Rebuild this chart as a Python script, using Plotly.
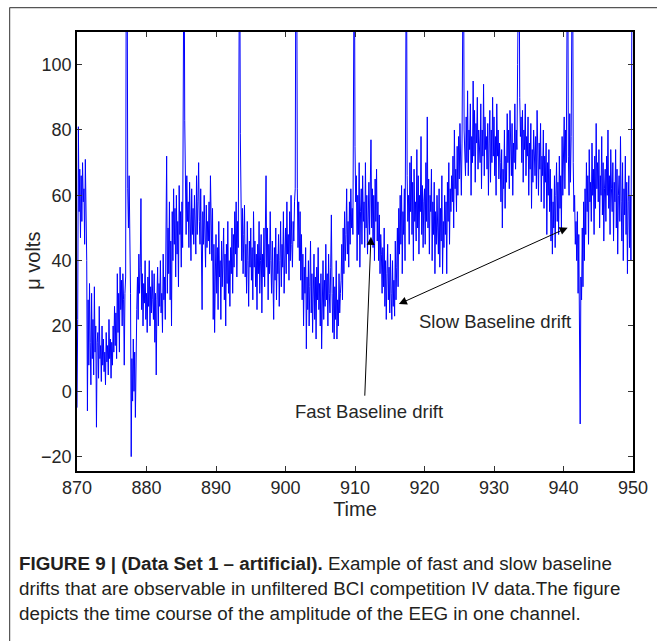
import numpy as np
import plotly.graph_objects as go

t_start = 870.0
t_step = 0.1

seg_870 = [
    -5, 22, 81, 55, 68, 47, 66, 52, 70, 58,
    62, 45, 71, 50, 40, -6, 28, 8, 33, 15,
    2, 30, 10, 22, 5, 32, 12, 20, -11, 15,
    18, 4, 26, 10, 14, 3, 20, 8, 16, 6,
    12, 2, 18, 9, 14, 5, 22, 10, 16, 4,
    15, 8, 20, 12, 26, 14, 24, 10, 36, 18,
    30, 12, 38, 25, 34, 20, 36, 28, 8, 30,
    35, 150, 150, 62, 50, 66, 45, 30, -20, 10,
    -3, 16, 0, 12, -8, 18, 25, 35, 22, 42,
    30, 38, 59, 25, 36, 20, 33, 27, 40, 22,
]
seg_880 = [
    30, 18, 35, 26, 40, 20, 32, 24, 37, 28,
    22, 36, 15, 30, 5, 28, 38, 20, 33, 26,
    40, 24, 30, 18, 42, 28, 35, 22, 45, 72,
    30, 50, 36, 58, 28, 46, 20, 55, 40, 62,
    45, 56, 35, 60, 42, 52, 32, 63, 48, 55,
    38, 58, 44, 150, 150, 83, 60, 48, 66, 52,
    58, 44, 64, 50, 40, 62, 48, 56, 45, 60,
    50, 42, 66, 48, 58, 70, 52, 45, 62, 40,
    25, 55, 45, 60, 48, 38, 57, 44, 52, 46,
    58, 42, 66, 50, 40, 56, 22, 45, 18, 35,
]
seg_890 = [
    48, 30, 44, 25, 52, 35, 40, 22, 46, 32,
    38, 50, 28, 42, 20, 45, 33, 52, 30, 40,
    26, 44, 36, 50, 30, 48, 38, 55, 42, 58,
    35, 52, 44, 150, 150, 79, 50, 40, 56, 36,
    48, 57, 35, 45, 30, 52, 40, 26, 46, 38,
    50, 34, 44, 28, 55, 38, 46, 32, 42, 25,
    45, 36, 52, 30, 40, 48, 24, 42, 35, 50,
    32, 44, 66, 38, 50, 28, 45, 36, 55, 40,
    30, 46, 38, 22, 44, 34, 50, 28, 42, 36,
    48, 26, 40, 52, 32, 45, 38, 55, 30, 44,
]
seg_900 = [
    50, 36, 58, 42, 48, 34, 55, 40, 60, 45,
    38, 52, 46, 58, 62, 150, 150, 62, 44, 58,
    40, 55, 34, 48, 28, 42, 20, 38, 30, 44,
    13, 35, 25, 40, 20, 32, 46, 24, 36, 18,
    30, 42, 22, 35, 16, 38, 28, 44, 25, 33,
    20, 36, 13, 30, 40, 22, 34, 26, 45, 28,
    36, 20, 42, 30, 24, 38, 54, 30, 18, 35,
    16, 32, 22, 40, 16, 28, 20, 36, 24, 30,
    34, 45, 28, 50, 36, 55, 40, 48, 62, 42,
    52, 38, 58, 45, 62, 50, 56, 48, 150, 150,
]
seg_910 = [
    75, 58, 66, 40, 60, 48, 70, 38, 55, 62,
    45, 66, 52, 58, 44, 70, 50, 60, 42, 56,
    64, 48, 58, 77, 50, 62, 44, 60, 40, 65,
    52, 68, 46, 58, 40, 54, 36, 48, 42, 30,
    44, 32, 50, 26, 40, 22, 36, 45, 28, 38,
    24, 42, 30, 22, 40, 26, 34, 23, 46, 28,
    38, 50, 32, 56, 42, 60, 45, 63, 36, 55,
    48, 62, 40, 150, 150, 66, 52, 60, 45, 70,
    55, 72, 48, 64, 40, 68, 52, 58, 46, 74,
    50, 66, 42, 60, 55, 78, 48, 63, 44, 58,
]
seg_920 = [
    62, 45, 70, 52, 84, 50, 65, 42, 60, 55,
    68, 40, 58, 48, 64, 36, 55, 45, 60, 50,
    42, 62, 38, 56, 46, 66, 36, 52, 44, 60,
    48, 58, 36, 64, 52, 70, 45, 62, 55, 66,
    58, 72, 50, 80, 62, 68, 55, 75, 60, 78,
    65, 82, 70, 60, 76, 150, 150, 80, 72, 66,
    84, 70, 92, 66, 80, 74, 88, 60, 78, 70,
    95, 72, 86, 64, 82, 76, 90, 68, 80, 74,
    70, 88, 62, 80, 72, 94, 66, 84, 74, 78,
    68, 82, 60, 76, 86, 64, 80, 70, 90, 72,
]
seg_930 = [
    84, 66, 78, 60, 88, 72, 80, 65, 76, 70,
    58, 74, 50, 68, 62, 80, 56, 72, 64, 85,
    70, 80, 62, 86, 72, 66, 82, 60, 76, 70,
    88, 68, 80, 74, 100, 150, 150, 90, 78, 84,
    70, 86, 64, 80, 74, 88, 66, 78, 72, 84,
    60, 76, 68, 82, 56, 74, 64, 80, 70, 66,
    78, 62, 86, 70, 60, 76, 68, 82, 58, 72,
    66, 80, 56, 72, 64, 76, 48, 70, 60, 74,
    55, 68, 46, 62, 42, 58, 50, 66, 44, 60,
    70, 52, 64, 48, 72, 56, 66, 50, 78, 60,
]
seg_940 = [
    68, 84, 62, 80, 70, 150, 150, 72, 60, 85,
    64, 78, 150, 150, 70, 55, 60, 45, 52, 40,
    55, 30, 48, 27, -10, 35, 28, 50, 32, 58,
    40, 62, 48, 70, 55, 66, 45, 74, 58, 64,
    52, 76, 60, 68, 48, 72, 56, 82, 62, 70,
    58, 74, 50, 66, 60, 78, 54, 70, 46, 62,
    68, 52, 72, 60, 80, 56, 66, 48, 74, 62,
    55, 70, 46, 64, 58, 74, 50, 68, 42, 60,
    66, 52, 78, 58, 46, 70, 40, 62, 54, 72,
    48, 64, 36, 58, 66, 44, 60, 40, 150, 150,
]
seg_950 = [150]

x_ticks = [870, 880, 890, 900, 910, 920, 930, 940, 950]
y_ticks = [-20, 0, 20, 40, 60, 80, 100]

values = (seg_870 + seg_880 + seg_890 + seg_900 + seg_910 + seg_920
          + seg_930 + seg_940 + seg_950)
time = t_start + t_step * np.arange(len(values))

# ---- geometry helpers (pixel -> paper) ----
W, H = 657, 641
L, R, T, B = 76.5, 633.5, 31.5, 471.0


def px(xp):
    return (xp - L) / (R - L)


def py(yp):
    return (B - yp) / (B - T)


fig = go.Figure()
fig.add_trace(go.Scatter(x=time, y=values, mode="lines",
                         line=dict(color="#0000ff", width=1),
                         hoverinfo="skip", showlegend=False))

FONT = "Liberation Sans, Arial, Helvetica, sans-serif"
TXT = "#262626"
axis_font = dict(family=FONT, size=18, color=TXT)
fig.update_layout(
    width=W, height=H,
    margin=dict(l=L, r=W - R, t=T, b=H - B, pad=0),
    paper_bgcolor="white", plot_bgcolor="white",
    showlegend=False,
    xaxis=dict(range=[870, 950], tickvals=x_ticks, ticks="inside", ticklen=5,
               tickwidth=1, tickcolor="#333", showline=True, linecolor="black",
               linewidth=1.5, mirror="allticks", showgrid=False, zeroline=False,
               tickfont=axis_font, automargin=False,
               title=dict(text="Time", font=dict(family=FONT, size=20, color=TXT),
                          standoff=2)),
    yaxis=dict(range=[-24.4, 110], tickvals=y_ticks, ticks="inside", ticklen=5,
               tickwidth=1, tickcolor="#333", showline=True, linecolor="black",
               linewidth=1.5, mirror="allticks", showgrid=False, zeroline=False,
               tickfont=axis_font, automargin=False),
)

# y-axis title placed precisely
fig.add_annotation(xref="paper", yref="paper", x=px(33), y=py(261),
                   text="μ volts", textangle=-90, showarrow=False,
                   font=dict(family=FONT, size=20, color=TXT),
                   xanchor="center", yanchor="middle")

ann_font = dict(family=FONT, size=18.5, color=TXT)
# Fast baseline drift
fig.add_annotation(x=912.0, y=-6.1, text="Fast Baseline drift", showarrow=False,
                   font=ann_font, xanchor="center", yanchor="middle")
fig.add_annotation(x=912.3, y=47.3, ax=911.4, ay=-1.8, axref="x", ayref="y",
                   text="", showarrow=True, arrowhead=2, arrowsize=1.6,
                   arrowwidth=1, arrowcolor="black")
# Slow baseline drift
fig.add_annotation(x=930.2, y=21.5, text="Slow Baseline drift", showarrow=False,
                   font=ann_font, xanchor="center", yanchor="middle")
fig.add_annotation(x=940.6, y=50.1, ax=916.1, ay=26.5, axref="x", ayref="y",
                   text="", showarrow=True, arrowhead=2, arrowside="end+start",
                   arrowsize=1.6, arrowwidth=1, arrowcolor="black")

# outer frame
fig.add_shape(type="line", xref="paper", yref="paper",
              x0=px(9), y0=py(7), x1=px(660), y1=py(7),
              line=dict(color="#555555", width=1.2))
fig.add_shape(type="line", xref="paper", yref="paper",
              x0=px(9), y0=py(7), x1=px(9), y1=py(645),
              line=dict(color="#555555", width=1.2))

# caption
cap_font = dict(family=FONT, size=18.8, color="#231f20")
cap_lines = [
    "<b>FIGURE 9 | (Data Set 1 – artificial).</b> Example of fast and slow baseline",
    "drifts that are observable in unfiltered BCI competition IV data.The figure",
    "depicts the time course of the amplitude of the EEG in one channel.",
]
for i, line in enumerate(cap_lines):
    fig.add_annotation(xref="paper", yref="paper", x=px(16), y=py(564 + 24.7 * i),
                       text=line, showarrow=False, xanchor="left", yanchor="middle",
                       font=cap_font, align="left")

fig.write_html("out.html", config={"displayModeBar": False},
               post_script="document.body.style.margin='0px';")
